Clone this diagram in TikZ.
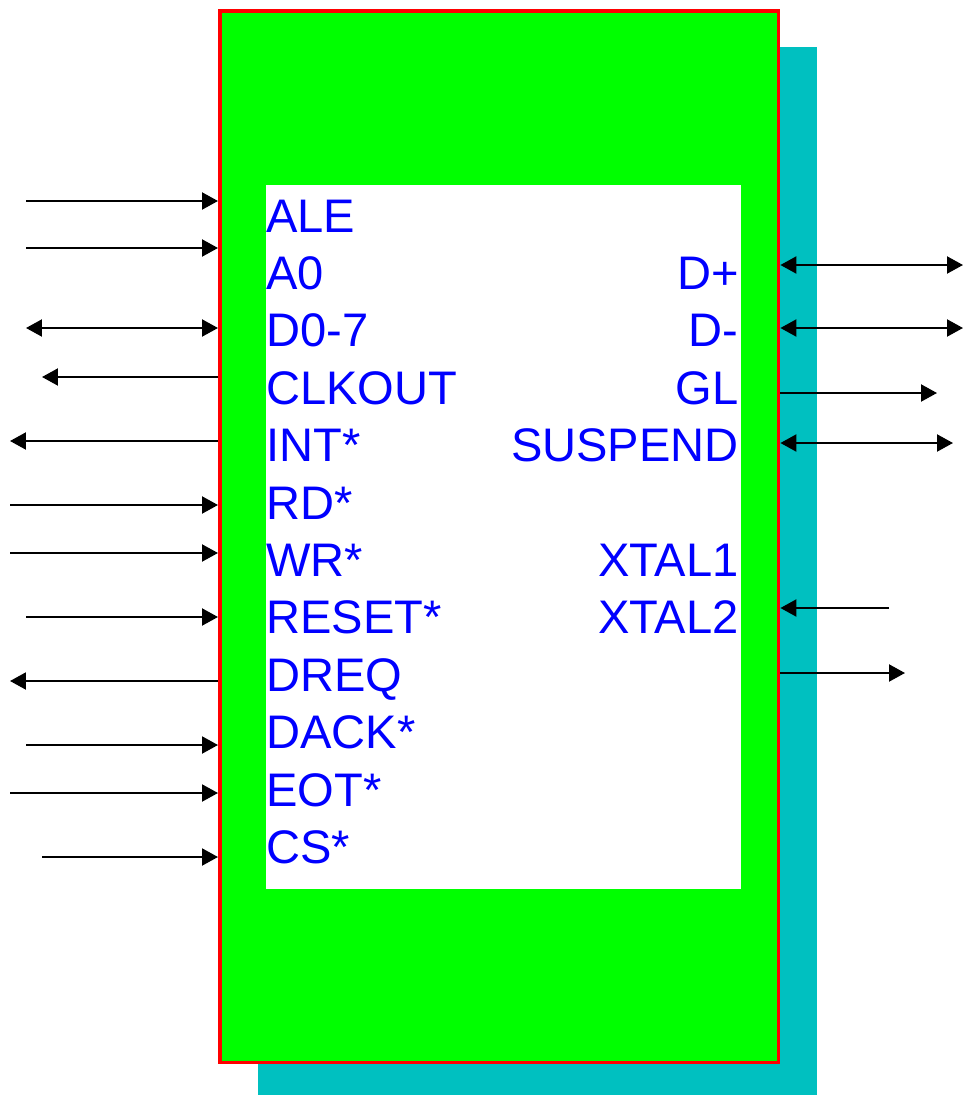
\documentclass[tikz,border=0pt]{standalone}
\usepackage{fontspec}
\newfontfamily\pinfont{Liberation Sans}
\usepackage{tikz}
\usetikzlibrary{arrows.meta, positioning}
\usepackage{xcolor}
\definecolor{chipgreen}{RGB}{0, 255, 0}
\definecolor{chipred}{RGB}{255, 0, 0}
\definecolor{shadowcyan}{RGB}{0, 192, 192}
\definecolor{pinblue}{RGB}{0, 0, 255}

\begin{document}
\begin{tikzpicture}[x=0.02cm, y=-0.02cm,
    every node/.style={font=\pinfont\fontsize{26.8}{30}\selectfont, text=pinblue, inner sep=0pt},
    chipbox/.style={draw=chipred, fill=chipgreen, line width=2pt, anchor=north west,
      minimum width=11.18cm, minimum height=21.04cm},
    pinline/.style={line width=1.2pt, black, arrows={-}},
    pinin/.style={pinline, -{Triangle[length=0.32cm, width=0.34cm]}},
    pinout/.style={pinline, {Triangle[length=0.32cm, width=0.34cm]}-},
    pinboth/.style={pinline, {Triangle[length=0.32cm, width=0.34cm]}-{Triangle[length=0.32cm, width=0.34cm]}}]
      \useasboundingbox (0, 0) rectangle (963, 1095);

      % Shadow
      \fill[shadowcyan] (258, 47) rectangle (817, 1095);

      % Chip body
      \node[chipbox] (chip) at (218, 9) {};
      \fill[white] (266, 185) rectangle (741, 889);

      % Left pin names
      \node[anchor=base west] (ale) at (266, 232) {ALE};
      \node[anchor=base west] (a0) at (266, 289.4) {A0};
      \node[anchor=base west] (d07) at (266, 346.8) {D0-7};
      \node[anchor=base west] (clkout) at (266, 404.2) {CLKOUT};
      \node[anchor=base west] (int) at (266, 461.6) {INT*};
      \node[anchor=base west] (rd) at (266, 519) {RD*};
      \node[anchor=base west] (wr) at (266, 576.4) {WR*};
      \node[anchor=base west] (reset) at (266, 633.8) {RESET*};
      \node[anchor=base west] (dreq) at (266, 691.2) {DREQ};
      \node[anchor=base west] (dack) at (266, 748.6) {DACK*};
      \node[anchor=base west] (eot) at (266, 806) {EOT*};
      \node[anchor=base west] (cs) at (266, 863.4) {CS*};

      % Right pin names
      \node[anchor=base east] (dplus) at (739, 289.4) {D+};
      \node[anchor=base east] (dminus) at (739, 346.8) {D-};
      \node[anchor=base east] (gl) at (739, 404.2) {GL};
      \node[anchor=base east] (suspend) at (739, 461.6) {SUSPEND};
      \node[anchor=base east] (xtal1) at (739, 576.4) {XTAL1};
      \node[anchor=base east] (xtal2) at (739, 633.8) {XTAL2};

      % Left pin lines
      \coordinate (aleend) at (26, 201);
      \coordinate (a0end) at (26, 248);
      \coordinate (d07end) at (26, 328);
      \coordinate (clkoutend) at (42, 377);
      \coordinate (intend) at (10, 441);
      \coordinate (rdend) at (10, 505);
      \coordinate (wrend) at (10, 553);
      \coordinate (resetend) at (26, 617);
      \coordinate (dreqend) at (10, 681);
      \coordinate (dackend) at (26, 745);
      \coordinate (eotend) at (10, 793);
      \coordinate (csend) at (42, 857);
      \draw[pinin] (aleend) -- (aleend -| chip.west);
      \draw[pinin] (a0end) -- (a0end -| chip.west);
      \draw[pinboth] (d07end) -- (d07end -| chip.west);
      \draw[pinout] (clkoutend) -- (clkoutend -| chip.west);
      \draw[pinout] (intend) -- (intend -| chip.west);
      \draw[pinin] (rdend) -- (rdend -| chip.west);
      \draw[pinin] (wrend) -- (wrend -| chip.west);
      \draw[pinin] (resetend) -- (resetend -| chip.west);
      \draw[pinout] (dreqend) -- (dreqend -| chip.west);
      \draw[pinin] (dackend) -- (dackend -| chip.west);
      \draw[pinin] (eotend) -- (eotend -| chip.west);
      \draw[pinin] (csend) -- (csend -| chip.west);

      % Right pin lines
      \coordinate (dplusend) at (963, 265);
      \coordinate (dminusend) at (963, 328);
      \coordinate (glend) at (937, 393);
      \coordinate (suspendend) at (953, 443);
      \coordinate (xtal1end) at (889, 608);
      \coordinate (xtal2end) at (905, 673);
      \draw[pinboth] (dplusend -| chip.east) -- (dplusend);
      \draw[pinboth] (dminusend -| chip.east) -- (dminusend);
      \draw[pinin] (glend -| chip.east) -- (glend);
      \draw[pinboth] (suspendend -| chip.east) -- (suspendend);
      \draw[pinin] (xtal1end) -- (xtal1end -| chip.east);
      \draw[pinin] (xtal2end -| chip.east) -- (xtal2end);
\end{tikzpicture}
\end{document}
